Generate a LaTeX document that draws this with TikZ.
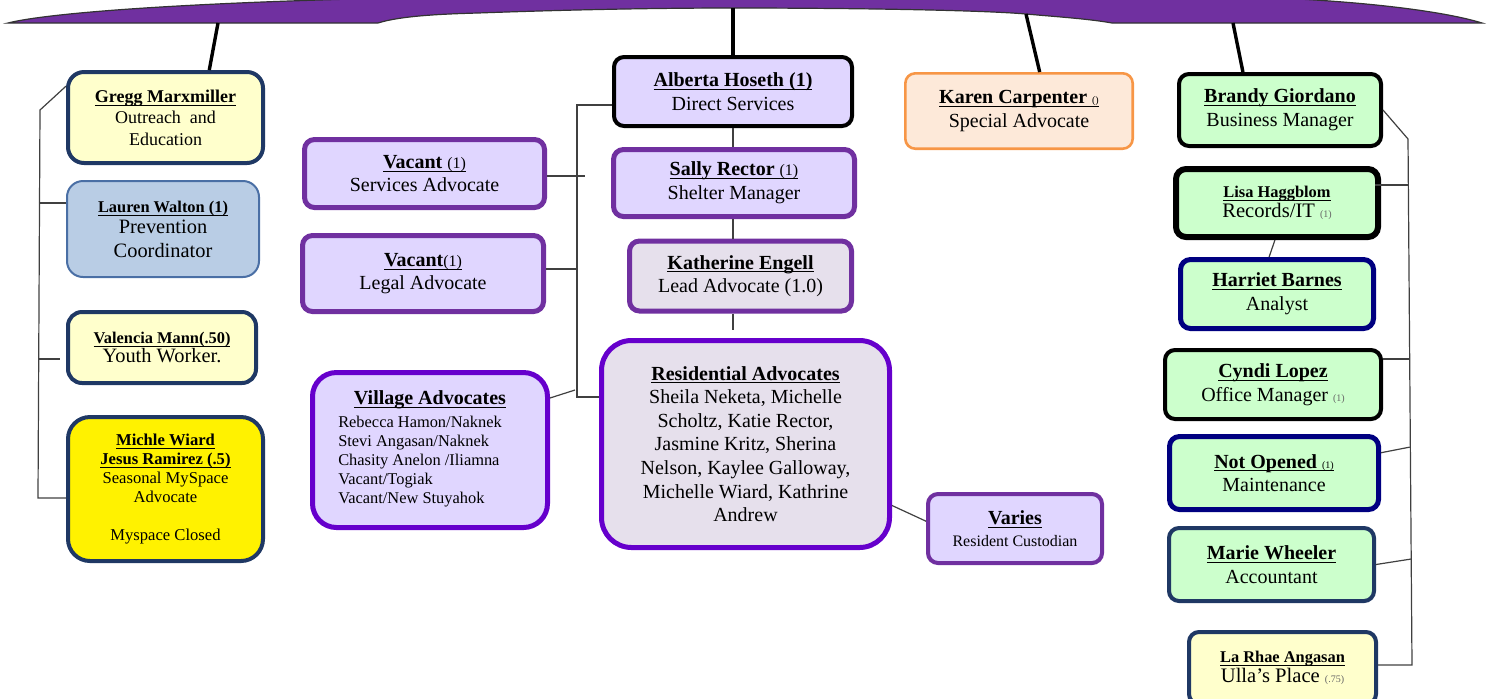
\documentclass[tikz,border=0pt]{standalone}
\usepackage{fontspec}
\setmainfont{Liberation Serif}
\usetikzlibrary{calc}

\definecolor{barpurple}{HTML}{7030A0}
\definecolor{violet}{HTML}{6600CC}
\definecolor{lilac}{HTML}{E0D6FF}
\definecolor{greylilac}{HTML}{E6E0EC}
\definecolor{paleyellow}{HTML}{FFFFCC}
\definecolor{navy}{HTML}{1F3864}
\definecolor{deepnavy}{HTML}{000080}
\definecolor{steelfill}{HTML}{B9CDE5}
\definecolor{steelline}{HTML}{4A6FA5}
\definecolor{mint}{HTML}{CCFFCC}
\definecolor{peach}{HTML}{FDE9D9}
\definecolor{orangeline}{HTML}{F79646}

\newcommand{\fsz}[2]{\fontsize{#1}{#2}\selectfont}
\newcommand{\uln}[1]{\underline{\raisebox{0pt}[\height][0pt]{#1}}}

\tikzstyle{box} = [rectangle, rounded corners=5pt, align=center, inner sep=1pt, font=\fsz{10}{11.8}]
\tikzstyle{link} = [draw, line width=0.6pt, black!75]
\tikzstyle{stem} = [draw, line width=1.7pt]

\begin{document}
\begin{tikzpicture}[x=0.5pt, y=-0.5pt]

	\useasboundingbox (0,0) rectangle (1488,698);

	% Left column
	\node[box, draw=navy, fill=paleyellow, line width=2pt, rounded corners=8pt, minimum width=97.5pt, minimum height=45.5pt, font=\fsz{9}{10.75}] (gregg) at (165.5,117.5) {\uln{\textbf{Gregg Marxmiller}}\\ Outreach\ \ and\\ Education};
	\node[box, draw=steelline, fill=steelfill, line width=1pt, rounded corners=8pt, minimum width=96pt, minimum height=48pt, font=\fsz{10.2}{12}] (lauren) at (163,229) {{\fsz{8.2}{10}\uln{\textbf{Lauren Walton (1)}}}\\[-1.5pt] Prevention\\ Coordinator};
	\node[box, draw=navy, fill=paleyellow, line width=2pt, rounded corners=7pt, minimum width=94pt, minimum height=35.5pt, font=\fsz{10.2}{12}] (valencia) at (162,347.5) {{\fsz{8.2}{10}\uln{\textbf{Valencia Mann(.50)}}}\\[-2.5pt] Youth Worker.};
	\node[box, draw=navy, fill=yellow, line width=2pt, rounded corners=11pt, minimum width=97.5pt, minimum height=72pt, font=\fsz{8.3}{9.5}] (michle) at (165.5,489) {\uln{\textbf{Michle Wiard}}\\ \uln{\textbf{Jesus Ramirez (.5)}}\\ Seasonal MySpace\\ Advocate\\[9.5pt] Myspace Closed};

	% Middle left
	\node[box, draw=barpurple, fill=lilac, line width=2.5pt, minimum width=120pt, minimum height=34pt] (vacserv) at (424.5,173.5) {\uln{\textbf{Vacant} {\fsz{8}{10}(1)}}\\ Services Advocate};
	\node[box, draw=barpurple, fill=lilac, line width=2.5pt, minimum width=120.5pt, minimum height=38pt] (vaclegal) at (423,273.5) {\uln{\textbf{Vacant}{\fsz{8}{10}(1)}}\\ Legal Advocate};
	\node[box, draw=violet, fill=lilac, line width=2.5pt, rounded corners=12pt, minimum width=117.5pt, minimum height=77.5pt] (village) at (430,450) {\uln{\textbf{Village Advocates}}\\[1.5pt] {\fsz{8.2}{9.5}\begin{tabular}{@{}l@{}}Rebecca Hamon/Naknek\\ Stevi Angasan/Naknek\\ Chasity Anelon /Iliamna\\ Vacant/Togiak\\ Vacant/New Stuyahok\end{tabular}}\hspace*{10pt}};

	% Direct services
	\node[box, draw=black, fill=lilac, line width=2pt, minimum width=119pt, minimum height=34.5pt] (alberta) at (733,91.5) {\uln{\textbf{Alberta Hoseth (1)}}\\ Direct Services};
	\node[box, draw=barpurple, fill=lilac, line width=2.5pt, minimum width=120.5pt, minimum height=33.5pt] (sally) at (734,183) {\uln{\textbf{Sally Rector} {\fsz{8}{10}(1)}}\\ Shelter Manager};
	\node[box, draw=barpurple, fill=greylilac, line width=2.5pt, minimum width=111pt, minimum height=35pt] (katherine) at (740.5,276) {\uln{\textbf{Katherine Engell}}\\ Lead Advocate (1.0)};
	\node[box, draw=violet, fill=greylilac, line width=2.5pt, rounded corners=15pt, minimum width=144pt, minimum height=103.5pt] (resid) at (745.5,444) {\uln{\textbf{Residential Advocates}}\\ Sheila Neketa, Michelle\\ Scholtz, Katie Rector,\\ Jasmine Kritz, Sherina\\ Nelson, Kaylee Galloway,\\ Michelle Wiard, Kathrine\\ Andrew};
	\node[box, draw=barpurple, fill=lilac, line width=2pt, minimum width=87pt, minimum height=34.5pt, font=\fsz{8}{11}] (varies) at (1015,528.5) {{\fsz{10}{12}\uln{\textbf{Varies}}}\\ Resident Custodian};
	\node[box, draw=orangeline, fill=peach, line width=1.3pt, minimum width=113.7pt, minimum height=37.7pt] (karen) at (1019,111) {\uln{\textbf{Karen Carpenter} {\fsz{5}{6}()}}\\ Special Advocate};

	% Business
	\node[box, draw=black, fill=mint, line width=2pt, minimum width=101pt, minimum height=36pt] (brandy) at (1280,110) {\uln{\textbf{Brandy Giordano}}\\ Business Manager};
	\node[box, draw=black, fill=mint, line width=3pt, minimum width=101pt, minimum height=34pt, font=\fsz{10.3}{12}] (lisa) at (1277,203) {{\fsz{8.2}{10}\uln{\textbf{Lisa Haggblom}}}\\[-2pt] Records/IT {\fsz{5}{6}\color{black!60}(1)}};
	\node[box, draw=deepnavy, fill=mint, line width=2.5pt, minimum width=96.5pt, minimum height=34.5pt] (harriet) at (1277,294) {\uln{\textbf{Harriet Barnes}}\\ Analyst};
	\node[box, draw=black, fill=mint, line width=2pt, minimum width=108pt, minimum height=34.5pt] (cyndi) at (1273,384.5) {\uln{\textbf{Cyndi Lopez}}\\ Office Manager {\fsz{5}{6}\color{black!60}(1)}};
	\node[box, draw=deepnavy, fill=mint, line width=2.5pt, minimum width=104.5pt, minimum height=36.5pt] (notopen) at (1274,473) {\uln{\textbf{Not Opened} {\fsz{5}{6}(1)}}\\ Maintenance};
	\node[box, draw=navy, fill=mint, line width=2pt, minimum width=102.5pt, minimum height=36.5pt] (marie) at (1271.5,564.5) {\uln{\textbf{Marie Wheeler}}\\ Accountant};
	\node[box, draw=navy, fill=paleyellow, line width=2pt, minimum width=93.5pt, minimum height=36pt, font=\fsz{10.3}{12}] (larhae) at (1282.5,668) {{\fsz{8.2}{10}\uln{\textbf{La Rhae Angasan}}}\\[-2pt] Ulla's Place {\fsz{5}{6}\color{black!60}(.75)}};

	% Top bar
	\draw[fill=barpurple, draw=black!80, line width=0.6pt] (8,23) -- (378,23) .. controls (400,16) and (440,14) .. (478,13) .. controls (560,10) and (650,8) .. (733,8) .. controls (850,8) and (980,10) .. (1026,14) .. controls (1060,17) and (1090,19) .. (1112,23) -- (1482,23) .. controls (1440,10) and (1350,0) .. (1250,-3) -- (450,-3) .. controls (250,0) and (60,10) .. (8,23) -- cycle;
	\coordinate (barA) at (218,23);
	\coordinate (barB) at (733,8);
	\coordinate (barC) at (1026,14);
	\coordinate (barD) at (1233,23);
	\path[stem] (barA) -- ($(gregg.north west)!0.72!(gregg.north east)$);
	\path[stem] (barB) -- (alberta.north);
	\path[stem] (barC) -- ($(karen.north west)!0.59!(karen.north east)$);
	\path[stem] (barD) -- ($(brandy.north west)!0.32!(brandy.north east)$);

	% Left bracket
	\coordinate (lbTop) at (40,110);
	\coordinate (lb2) at (38.8,203);
	\coordinate (lb3) at (38.4,359);
	\coordinate (lbBot) at (38,498);
	\path[link] ($(gregg.north west)!0.17!(gregg.south west)$) -- (lbTop) -- (lbBot) -- (lbBot -| michle.west);
	\path[link] (lb2) -- (lb2 -| lauren.west);
	\path[link] (lb3) -- ($(lb3 -| valencia.west)+(-6,0)$);

	% Middle bracket
	\coordinate (mbTop) at (577,105);
	\coordinate (ms) at (585,176);
	\coordinate (ml) at (577,269);
	\coordinate (mv) at (575,390);
	\coordinate (mbBot) at (577,397);
	\path[link] (mbTop -| alberta.west) -- (mbTop) -- (mbBot) -- (mbBot -| resid.west);
	\path[link] (ms -| vacserv.east) -- (ms);
	\path[link] (ml -| vaclegal.east) -- (ml);
	\path[link] ($(village.north east)!0.175!(village.south east)$) -- (mv);

	% Shelter chain
	\path[link] (alberta.south) -- (alberta.south |- sally.north);
	\path[link] (alberta.south |- sally.south) -- (alberta.south |- katherine.north);
	\path[link] (alberta.south |- katherine.south) -- ($(alberta.south |- resid.north)+(0,-8)$);
	\path[link] ($(resid.north east)!0.79!(resid.south east)$) -- ($(varies.north west)!0.4!(varies.south west)$);

	% Right bracket
	\coordinate (rbTop) at (1408,139);
	\coordinate (rb1) at (1408.4,185);
	\coordinate (rb2) at (1409.7,359);
	\coordinate (rb3) at (1410.3,447);
	\coordinate (rb4) at (1411.2,559);
	\coordinate (rb5) at (1412,665);
	\path[link] (brandy.east) -- (rbTop) -- (rb5) -- (rb5 -| larhae.east);
	\path[link] ($(rb1 -| lisa.east)+(-6,0)$) -- (rb1);
	\path[link] (rb2 -| cyndi.east) -- (rb2);
	\path[link] ($(notopen.north east)!0.24!(notopen.south east)$) -- (rb3);
	\path[link] (marie.east) -- (rb4);
	\path[link] ($(lisa.south west)!0.49!(lisa.south east)$) -- ($(harriet.north west)!0.46!(harriet.north east)$);

\end{tikzpicture}
\end{document}
